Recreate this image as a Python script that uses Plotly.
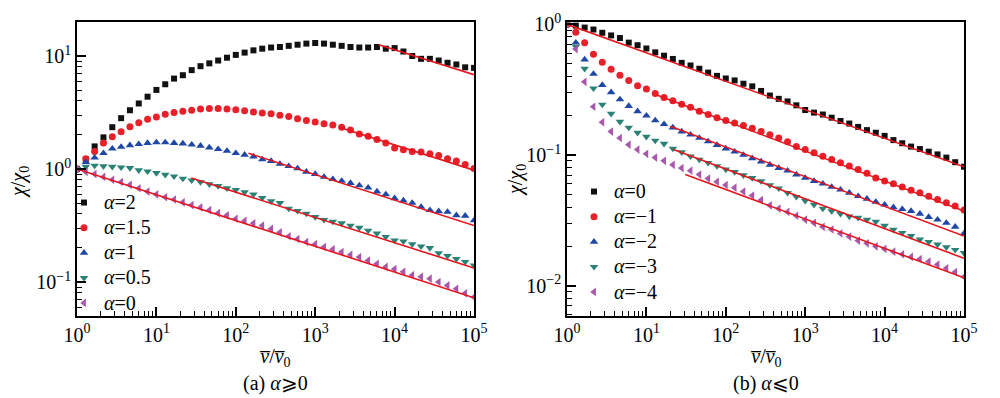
import plotly.graph_objects as go

# ---------------- data ----------------
x_vals = [1, 1.292, 1.668, 2.154, 2.783, 3.594, 4.642, 5.995, 7.743,
          10, 12.92, 16.68, 21.54, 27.83, 35.94, 46.42, 59.95, 77.43,
          100, 129.2, 166.8, 215.4, 278.3, 359.4, 464.2, 599.5, 774.3,
          1000, 1292, 1668, 2154, 2783, 3594, 4642, 5995, 7743,
          10000, 12915, 16681, 21544, 27826, 35938, 46416, 59948, 77426,
          100000]

# panel (a): alpha >= 0
a2 = [1.00, 1.216, 1.585, 1.905, 2.344, 2.818, 3.311, 3.802, 4.365,
      5.012, 5.623, 6.310, 6.761, 7.499, 8.128, 8.610, 9.120, 9.661,
      10.23, 10.72, 11.22, 11.61, 11.89, 12.02, 12.30, 12.59, 12.88,
      13.03, 12.88, 12.59, 12.30, 12.02, 11.89, 11.89, 12.02, 11.61,
      11.75, 10.96, 10.00, 9.441, 9.441, 9.120, 8.710, 8.414, 7.943,
      7.852]
a15 = [1.00, 1.230, 1.429, 1.698, 1.928, 2.138, 2.371, 2.570, 2.754,
       2.884, 3.055, 3.162, 3.236, 3.311, 3.388, 3.428, 3.428, 3.388,
       3.350, 3.273, 3.199, 3.126, 3.090, 2.985, 2.917, 2.786, 2.692,
       2.600, 2.512, 2.455, 2.344, 2.213, 2.042, 1.950, 1.820, 1.698,
       1.531, 1.479, 1.429, 1.413, 1.365, 1.318, 1.230, 1.175, 1.096,
       1.012]
a1 = [1.00, 1.148, 1.259, 1.380, 1.514, 1.567, 1.622, 1.660, 1.698,
      1.718, 1.718, 1.698, 1.679, 1.641, 1.603, 1.549, 1.496, 1.445,
      1.380, 1.334, 1.288, 1.216, 1.175, 1.109, 1.059, 1.012, 0.944,
      0.902, 0.851, 0.813, 0.785, 0.750, 0.716, 0.684, 0.631, 0.596,
      0.550, 0.525, 0.501, 0.462, 0.432, 0.422, 0.417, 0.389, 0.385,
      0.351]
a05 = [1.00, 1.047, 1.072, 1.059, 1.047, 1.035, 1.023, 0.977, 0.955,
       0.923, 0.891, 0.861, 0.822, 0.794, 0.767, 0.733, 0.708, 0.676,
       0.653, 0.624, 0.596, 0.556, 0.519, 0.501, 0.447, 0.427, 0.403,
       0.376, 0.355, 0.343, 0.331, 0.316, 0.302, 0.285, 0.269, 0.251,
       0.234, 0.229, 0.216, 0.207, 0.200, 0.180, 0.170, 0.160, 0.151,
       0.140]
a0 = [1.00, 0.944, 0.902, 0.851, 0.804, 0.767, 0.724, 0.676, 0.631,
      0.596, 0.562, 0.537, 0.507, 0.479, 0.457, 0.432, 0.407, 0.389,
      0.363, 0.347, 0.331, 0.316, 0.295, 0.275, 0.254, 0.240, 0.226,
      0.216, 0.204, 0.195, 0.184, 0.174, 0.166, 0.155, 0.145, 0.136,
      0.130, 0.123, 0.115, 0.111, 0.107, 0.100, 0.0933, 0.0871, 0.0794,
      0.0733]

# panel (b): alpha <= 0
b0 = [1.00, 0.977, 0.944, 0.912, 0.861, 0.822, 0.785, 0.724, 0.692,
      0.653, 0.610, 0.575, 0.543, 0.507, 0.484, 0.457, 0.427, 0.403,
      0.385, 0.372, 0.351, 0.335, 0.309, 0.285, 0.269, 0.257, 0.240,
      0.221, 0.211, 0.204, 0.193, 0.182, 0.174, 0.164, 0.155, 0.148,
      0.140, 0.130, 0.123, 0.116, 0.111, 0.106, 0.101, 0.0955, 0.0881,
      0.0813]
bm1 = [1.00, 0.871, 0.724, 0.589, 0.513, 0.452, 0.407, 0.372, 0.339,
       0.320, 0.295, 0.275, 0.260, 0.245, 0.232, 0.216, 0.204, 0.193,
       0.184, 0.176, 0.168, 0.160, 0.151, 0.143, 0.135, 0.126, 0.116,
       0.110, 0.104, 0.0977, 0.0923, 0.0871, 0.0822, 0.0776, 0.0724, 0.0668,
       0.0631, 0.0603, 0.0569, 0.0537, 0.0513, 0.0484, 0.0457, 0.0432, 0.0407,
       0.0380]
bm2 = [1.00, 0.724, 0.537, 0.417, 0.343, 0.302, 0.266, 0.237, 0.216,
       0.200, 0.184, 0.172, 0.162, 0.151, 0.143, 0.135, 0.127, 0.119,
       0.112, 0.106, 0.100, 0.0944, 0.0891, 0.0841, 0.0794, 0.0759, 0.0708,
       0.0668, 0.0631, 0.0603, 0.0569, 0.0543, 0.0513, 0.0484, 0.0462, 0.0437,
       0.0417, 0.0398, 0.0385, 0.0372, 0.0355, 0.0335, 0.0320, 0.0302, 0.0282,
       0.0251]
bm3 = [1.00, 0.676, 0.457, 0.324, 0.243, 0.207, 0.180, 0.162, 0.148,
       0.138, 0.129, 0.122, 0.112, 0.105, 0.0977, 0.0923, 0.0871, 0.0822,
       0.0776, 0.0741, 0.0700, 0.0668, 0.0631, 0.0589, 0.0556, 0.0513, 0.0479,
       0.0447, 0.0417, 0.0389, 0.0372, 0.0355, 0.0339, 0.0331, 0.0320, 0.0309,
       0.0288, 0.0269, 0.0254, 0.0240, 0.0226, 0.0216, 0.0207, 0.0197, 0.0188,
       0.0178]
bm4 = [1.00, 0.646, 0.363, 0.234, 0.178, 0.151, 0.135, 0.120, 0.110,
       0.102, 0.0955, 0.0902, 0.0841, 0.0794, 0.0759, 0.0708, 0.0661, 0.0624,
       0.0589, 0.0562, 0.0525, 0.0490, 0.0452, 0.0412, 0.0389, 0.0367, 0.0343,
       0.0320, 0.0302, 0.0282, 0.0269, 0.0251, 0.0237, 0.0221, 0.0211, 0.0200,
       0.0191, 0.0182, 0.0174, 0.0166, 0.0160, 0.0153, 0.0145, 0.0136, 0.0127,
       0.0117]

# fitted power-law lines (end points)
fit_a2_x, fit_a2_y = [6310, 100000], [12.6, 6.84]
fit_a15_x, fit_a15_y = [2000, 100000], [2.34, 0.977]
fit_a1_x, fit_a1_y = [144.5, 100000], [1.38, 0.316]
fit_a05_x, fit_a05_y = [27.5, 100000], [0.832, 0.133]
fit_a0_x, fit_a0_y = [1, 100000], [1.0, 0.0724]
fit_b0_x, fit_b0_y = [1, 100000], [1.0, 0.0813]
fit_bm1_x, fit_bm1_y = [13.5, 100000], [0.288, 0.0372]
fit_bm2_x, fit_bm2_y = [19.95, 100000], [0.166, 0.024]
fit_bm3_x, fit_bm3_y = [21.9, 100000], [0.110, 0.0162]
fit_bm4_x, fit_bm4_y = [30.9, 100000], [0.0708, 0.0115]

labels_a = ["<i>α</i>=2", "<i>α</i>=1.5", "<i>α</i>=1", "<i>α</i>=0.5", "<i>α</i>=0"]
labels_b = ["<i>α</i>=0", "<i>α</i>=−1", "<i>α</i>=−2", "<i>α</i>=−3", "<i>α</i>=−4"]

x_tick_vals = [1, 10, 100, 1000, 10000, 100000]
x_tick_text = ["10<sup>0</sup>", "10<sup>1</sup>", "10<sup>2</sup>",
               "10<sup>3</sup>", "10<sup>4</sup>", "10<sup>5</sup>"]
ya_tick_vals = [0.1, 1, 10]
ya_tick_text = ["10<sup>−1</sup>", "10<sup>0</sup>", "10<sup>1</sup>"]
yb_tick_vals = [0.01, 0.1, 1]
yb_tick_text = ["10<sup>−2</sup>", "10<sup>−1</sup>", "10<sup>0</sup>"]

# ---------------- style ----------------
FONT = "Liberation Serif, Times New Roman, DejaVu Serif, serif"
FS = 20
colors = ["#111111", "#e8202a", "#1f47a6", "#2a8276", "#a957aa"]
symbols = ["square", "circle", "triangle-up", "triangle-down", "triangle-left"]
sizes = [6, 7, 7.5, 7.5, 7.5]
FIT_COLOR = "#e8141c"

# the page is drawn with an 8px body margin: place everything in reference pixels minus 8
OFF = 8
W, H = 1000, 398

def px(xp):
    return (xp - OFF) / W

def py(yp):
    return 1 - (yp - OFF) / H

def big(s):
    return '<span style="font-size:%dpx">%s</span>' % (FS, s)

fig = go.Figure()

series_a = [a2, a15, a1, a05, a0]
fits_a = [(fit_a2_x, fit_a2_y), (fit_a15_x, fit_a15_y), (fit_a1_x, fit_a1_y),
          (fit_a05_x, fit_a05_y), (fit_a0_x, fit_a0_y)]
series_b = [b0, bm1, bm2, bm3, bm4]
fits_b = [(fit_b0_x, fit_b0_y), (fit_bm1_x, fit_bm1_y), (fit_bm2_x, fit_bm2_y),
          (fit_bm3_x, fit_bm3_y), (fit_bm4_x, fit_bm4_y)]

for i, ys in enumerate(series_a):
    fig.add_trace(go.Scatter(x=x_vals, y=ys, mode="markers", name=big(labels_a[i]),
                             marker=dict(symbol=symbols[i], color=colors[i], size=sizes[i], line=dict(width=0)),
                             xaxis="x", yaxis="y", legend="legend"))
for fx, fy in fits_a:
    fig.add_trace(go.Scatter(x=fx, y=fy, mode="lines", line=dict(color=FIT_COLOR, width=1.6),
                             showlegend=False, xaxis="x", yaxis="y"))

for i, ys in enumerate(series_b):
    fig.add_trace(go.Scatter(x=x_vals, y=ys, mode="markers", name=big(labels_b[i]),
                             marker=dict(symbol=symbols[i], color=colors[i], size=sizes[i], line=dict(width=0)),
                             xaxis="x2", yaxis="y2", legend="legend2"))
for fx, fy in fits_b:
    fig.add_trace(go.Scatter(x=fx, y=fy, mode="lines", line=dict(color=FIT_COLOR, width=1.6),
                             showlegend=False, xaxis="x2", yaxis="y2"))

minor_x = [m * 10 ** d for d in range(5) for m in range(2, 10)]
minor_ya = [m * 10 ** d for d in range(-2, 2) for m in range(2, 10)]
minor_yb = [m * 10 ** d for d in range(-3, 1) for m in range(2, 10)]

def axis_cfg(domain, anchor, rng, tv, tt, minor):
    return dict(type="log", range=rng, domain=domain, anchor=anchor,
                tickmode="array", tickvals=tv, ticktext=tt,
                ticks="inside", ticklen=9, tickwidth=1.5, tickcolor="black",
                minor=dict(ticks="inside", ticklen=5, tickwidth=1.2, tickcolor="black",
                           tickmode="array", tickvals=minor, showgrid=False),
                showline=True, linecolor="black", linewidth=1.6, mirror=True,
                showgrid=False, zeroline=False, automargin=False,
                tickfont=dict(family=FONT, size=FS, color="black"))

fig.update_layout(
    template="none",
    width=W, height=H, autosize=False,
    margin=dict(l=0, r=0, t=0, b=0, pad=0),
    paper_bgcolor="white", plot_bgcolor="white",
    font=dict(family=FONT, size=FS, color="black"),
    xaxis=axis_cfg([px(77), px(474)], "y", [0, 5], x_tick_vals, x_tick_text, minor_x),
    yaxis=axis_cfg([py(316), py(22)], "x", [-1.301, 1.301], ya_tick_vals, ya_tick_text, minor_ya),
    xaxis2=axis_cfg([px(567), px(964)], "y2", [0, 5], x_tick_vals, x_tick_text, minor_x),
    yaxis2=axis_cfg([py(316), py(22)], "x2", [-2.232, 0.0176], yb_tick_vals, yb_tick_text, minor_yb),
    legend=dict(x=px(64), y=py(185), xanchor="left", yanchor="top",
                bgcolor="rgba(0,0,0,0)", borderwidth=0,
                font=dict(family=FONT, size=17, color="black"), itemwidth=30,
                tracegroupgap=0),
    legend2=dict(x=px(574), y=py(174), xanchor="left", yanchor="top",
                 bgcolor="rgba(0,0,0,0)", borderwidth=0,
                 font=dict(family=FONT, size=17, color="black"), itemwidth=30,
                 tracegroupgap=0),
    showlegend=True,
)

vbar = "<i>v\u0305</i>"
xtitle = vbar + "/" + vbar + "<sub>0</sub>"
ytitle = "<i>χ</i>/<i>χ</i><sub>0</sub>"

ann = [
    dict(text=ytitle, x=px(19), y=py(182), textangle=-90),
    dict(text=ytitle, x=px(516), y=py(180), textangle=-90),
    dict(text=xtitle, x=px(275), y=py(357)),
    dict(text=xtitle, x=px(766), y=py(357)),
    dict(text="(a) <i>α</i>⩾0", x=px(275), y=py(383)),
    dict(text="(b) <i>α</i>⩽0", x=px(766), y=py(383)),
]
for a in ann:
    a.update(xref="paper", yref="paper", showarrow=False, xanchor="center", yanchor="middle",
             font=dict(family=FONT, size=FS, color="black"))
fig.update_layout(annotations=ann)

fig.write_html("out.html")
